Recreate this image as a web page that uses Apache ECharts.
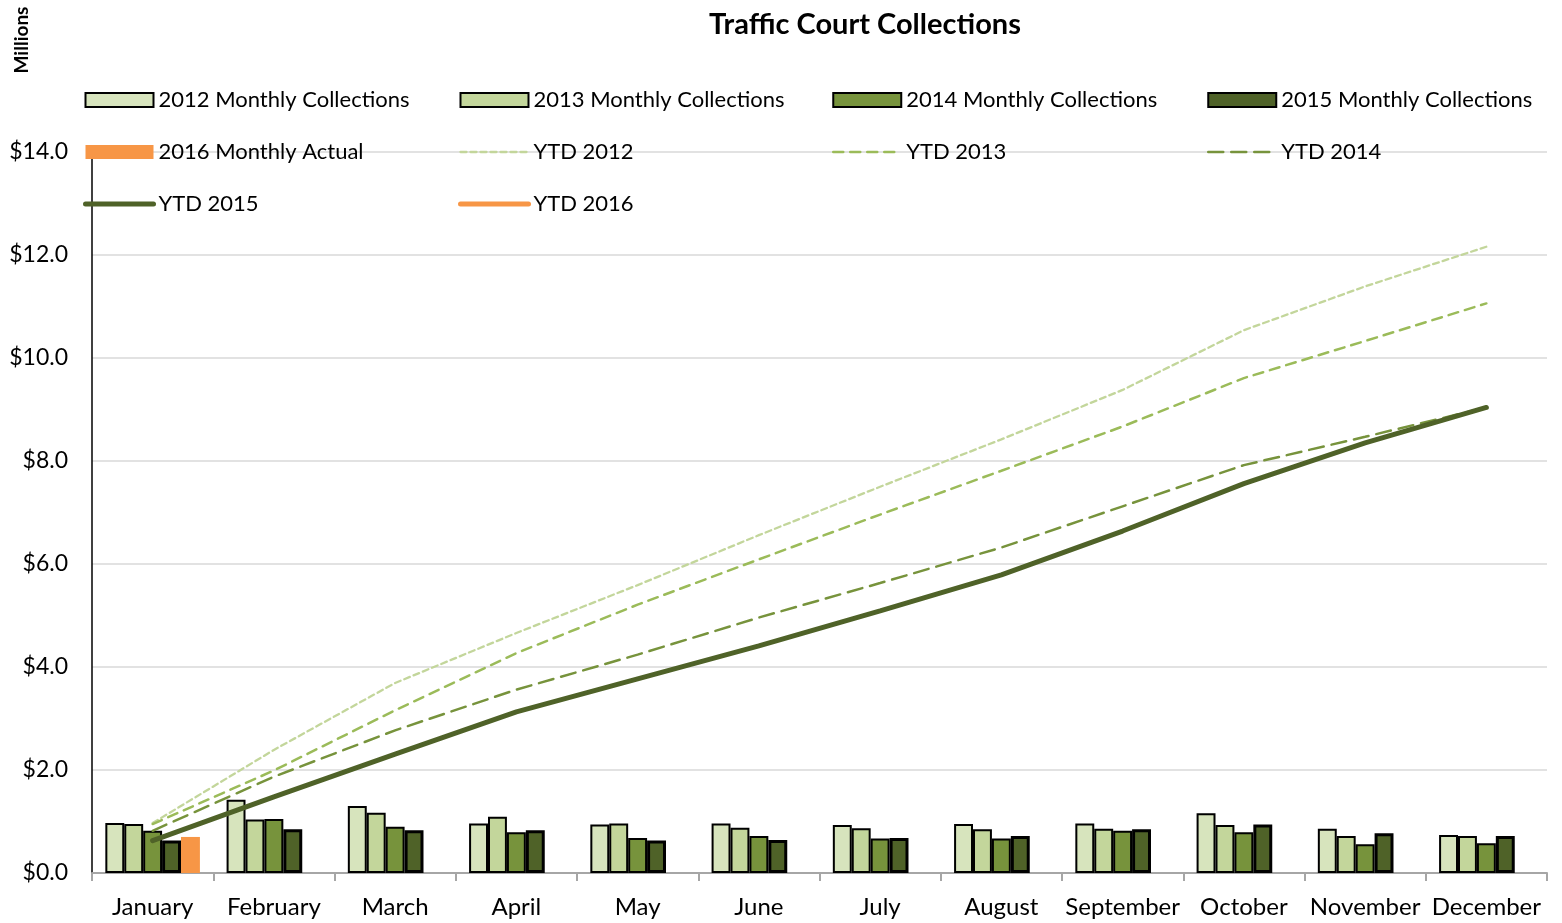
<!DOCTYPE html>
<html>
<head>
<meta charset="utf-8">
<script src="https://cdn.jsdelivr.net/npm/echarts@6/dist/echarts.min.js"></script>
<style>html,body{margin:0;padding:0;background:#fff}#c{width:1562px;height:923px}</style>
</head>
<body>
<div id="c"></div>
<script>
var months = ['January','February','March','April','May','June','July','August','September','October','November','December'];
var yTicks = [0, 2, 4, 6, 8, 10, 12, 14];
var m2012 = [0.97, 1.42, 1.30, 0.96, 0.94, 0.96, 0.93, 0.95, 0.96, 1.16, 0.86, 0.74];
var m2013 = [0.95, 1.04, 1.17, 1.09, 0.96, 0.88, 0.87, 0.85, 0.86, 0.93, 0.72, 0.72];
var m2014 = [0.82, 1.05, 0.90, 0.79, 0.68, 0.72, 0.67, 0.67, 0.82, 0.79, 0.56, 0.58];
var m2015 = [0.63, 0.85, 0.83, 0.83, 0.63, 0.64, 0.68, 0.72, 0.85, 0.94, 0.77, 0.72];
var m2016 = [0.70, null, null, null, null, null, null, null, null, null, null, null];
var ytd2012 = [0.97, 2.39, 3.69, 4.66, 5.59, 6.56, 7.50, 8.42, 9.38, 10.54, 11.39, 12.16];
var ytd2013 = [0.95, 1.99, 3.16, 4.27, 5.21, 6.09, 6.96, 7.81, 8.67, 9.61, 10.33, 11.06];
var ytd2014 = [0.82, 1.87, 2.77, 3.56, 4.24, 4.96, 5.63, 6.32, 7.12, 7.92, 8.47, 9.04];
var ytd2015 = [0.63, 1.48, 2.31, 3.13, 3.77, 4.41, 5.09, 5.79, 6.64, 7.56, 8.35, 9.04];
var ytd2016 = [0.70, null, null, null, null, null, null, null, null, null, null, null];

var FONT = 'Lato';
var chart = echarts.init(document.getElementById('c'), null, {renderer: 'canvas'});

var lineWidths = {};
function barS(name, data, color, bw, bc) {
  return {
    name: name, type: 'bar', data: data, barGap: '0%', barCategoryGap: '22%',
    itemStyle: {color: color, borderColor: bc || '#000', borderWidth: bw},
    z: 2
  };
}
function lineS(name, data, color, width, type) {
  lineWidths[name] = width;
  return {
    name: name, type: 'line', data: data, symbol: 'none', showSymbol: false,
    lineStyle: {color: color, width: width, type: type, cap: 'round'},
    itemStyle: {color: color},
    z: 5
  };
}

var series = [
  barS('2012 Monthly Collections', m2012, '#d7e4bd', 2),
  barS('2013 Monthly Collections', m2013, '#c3d69b', 2),
  barS('2014 Monthly Collections', m2014, '#77933c', 2),
  barS('2015 Monthly Collections', m2015, '#4f6228', 3),
  barS('2016 Monthly Actual', m2016, '#f79646', 0, '#f79646'),
  lineS('YTD 2012', ytd2012, '#c3d69b', 2.3, [6, 4]),
  lineS('YTD 2013', ytd2013, '#9bbb59', 2.5, [10, 7]),
  lineS('YTD 2014', ytd2014, '#77933c', 2.5, [15, 8]),
  lineS('YTD 2015', ytd2015, '#4f6228', 5, 'solid'),
  lineS('YTD 2016', ytd2016, '#f79646', 5, 'solid')
];

function legend(left, names) {
  return {
    orient: 'vertical', left: left, top: 84, itemWidth: 68, itemHeight: 14, itemGap: 30,
    textStyle: {fontFamily: FONT, fontSize: 22, color: '#000'},
    selectedMode: false,
    data: names.map(function (n) {
      if (/Monthly/.test(n)) return {name: n, icon: 'rect'};
      return {name: n, itemStyle: {opacity: 0}, lineStyle: {width: lineWidths[n]}};
    })
  };
}

chart.setOption({
  animation: false,
  backgroundColor: '#fff',
  title: {
    text: 'Traffic Court Collections', left: 860, top: 5, textAlign: 'center',
    textStyle: {fontFamily: FONT, fontSize: 29, fontWeight: 'bold', color: '#000'}
  },
  graphic: [{
    type: 'text', x: 22, y: 40, rotation: Math.PI / 2,
    style: {text: 'Millions', fontFamily: FONT, fontSize: 19, fontWeight: 'bold', fill: '#000', align: 'center', verticalAlign: 'middle'}
  }],
  legend: [
    legend(78, ['2012 Monthly Collections', '2016 Monthly Actual', 'YTD 2015']),
    legend(453, ['2013 Monthly Collections', 'YTD 2012', 'YTD 2016']),
    legend(827, ['2014 Monthly Collections', 'YTD 2013']),
    legend(1202, ['2015 Monthly Collections', 'YTD 2014'])
  ],
  grid: {left: 92, right: 15, top: 152, bottom: 50, containLabel: false},
  xAxis: {
    type: 'category', data: months, boundaryGap: true,
    axisLine: {lineStyle: {color: '#a6a6a6', width: 2}},
    axisTick: {show: true, length: 8, lineStyle: {color: '#a6a6a6', width: 2}},
    axisLabel: {fontFamily: FONT, fontSize: 24, color: '#000', margin: 22, interval: 0},
    splitLine: {show: false}
  },
  yAxis: {
    type: 'value', min: yTicks[0], max: yTicks[yTicks.length - 1], interval: 2,
    axisLine: {show: true, lineStyle: {color: '#000', width: 1.5}},
    axisTick: {show: false},
    axisLabel: {fontFamily: FONT, fontSize: 23, color: '#000', margin: 24,
      formatter: function (v) { return '$' + v.toFixed(1); }},
    splitLine: {lineStyle: {color: '#d9d9d9', width: 1.5}}
  },
  series: series
});
</script>
</body>
</html>
